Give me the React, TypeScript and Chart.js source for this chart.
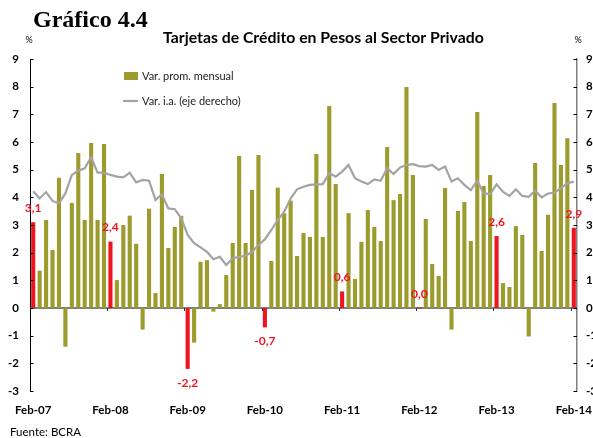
import React, { useEffect, useRef } from "react";
import { Chart, registerables } from "chart.js";

Chart.register(...registerables);

const MONTHS = ["Ene", "Feb", "Mar", "Abr", "May", "Jun", "Jul", "Ago", "Sep", "Oct", "Nov", "Dic"];

// Feb-07 .. Feb-14 (85 months)
const categories: string[] = Array.from({ length: 85 }, (_, k) => {
  const m = (1 + k) % 12;
  const y = 7 + Math.floor((1 + k) / 12);
  return `${MONTHS[m]}-${String(y).padStart(2, "0")}`;
});

// Var. prom. mensual (%), left axis
const monthlyVar: number[] = [
  3.1, 1.35, 3.18, 2.1, 4.71, -1.4, 3.8, 5.6, 3.18, 5.96, 3.18, 5.93,
  2.4, 1.01, 3.0, 3.34, 2.32, -0.78, 3.59, 0.54, 4.84, 2.17, 2.93, 3.33,
  -2.2, -1.25, 1.67, 1.73, -0.13, 0.14, 1.19, 2.35, 5.49, 2.35, 4.27, 5.53,
  -0.7, 1.7, 4.35, 3.42, 3.88, 1.88, 2.71, 2.57, 5.57, 2.57, 7.3, 4.48,
  0.6, 3.43, 1.05, 2.39, 3.54, 2.93, 2.42, 5.82, 3.9, 4.12, 7.99, 4.81,
  0.0, 3.22, 1.59, 1.16, 4.34, -0.78, 3.51, 3.83, 2.42, 7.08, 4.41, 4.81,
  2.6, 0.9, 0.76, 2.96, 2.64, -1.03, 5.24, 2.06, 3.37, 7.41, 5.17, 6.14,
  2.9,
];

// Var. i.a. (%), right axis
const yoyVar: number[] = [
  42.2, 39.6, 41.9, 38.7, 37.8, 41.4, 48.1, 49.6, 50.5, 54.5, 48.9, 48.9,
  48.1, 47.5, 47.2, 48.9, 45.4, 46.3, 46.0, 39.0, 41.1, 36.0, 35.7, 32.4,
  26.4, 23.4, 21.9, 20.3, 17.6, 18.5, 15.5, 18.0, 18.5, 18.9, 20.3, 22.8,
  24.8, 28.2, 31.8, 34.8, 39.6, 42.9, 43.8, 44.5, 44.7, 44.8, 48.7, 47.5,
  49.3, 51.7, 46.9, 45.7, 44.8, 46.5, 46.0, 50.5, 48.4, 50.8, 51.7, 52.0,
  51.3, 51.1, 51.7, 49.9, 51.1, 45.7, 46.9, 44.5, 42.6, 46.0, 41.4, 41.2,
  44.7, 42.0, 40.5, 42.9, 40.5, 40.2, 42.4, 40.0, 41.4, 41.7, 43.3, 45.1,
  45.7,
];

const leftTicks = [-3, -2, -1, 0, 1, 2, 3, 4, 5, 6, 7, 8, 9];
const rightTicks = [-30, -20, -10, 0, 10, 20, 30, 40, 50, 60, 70, 80, 90];

const OLIVE = "#9c9c2e";
const RED = "#ee1520";
const GREY = "#a3a3a3";
const FONT = "Lato";

const decor = {
  id: "decor",
  beforeDatasetsDraw(chart: any) {
    const { ctx, chartArea, scales } = chart;
    const y0 = scales.y.getPixelForValue(0);
    ctx.save();
    ctx.strokeStyle = "#555";
    ctx.lineWidth = 1.5;
    ctx.beginPath();
    ctx.moveTo(chartArea.left, y0);
    ctx.lineTo(chartArea.right, y0);
    ctx.stroke();
    ctx.restore();
  },
  afterDatasetsDraw(chart: any) {
    const { ctx, scales } = chart;
    ctx.save();
    ctx.fillStyle = RED;
    ctx.font = `bold 12px ${FONT}`;
    ctx.textAlign = "center";
    ctx.textBaseline = "middle";
    monthlyVar.forEach((v, i) => {
      if (i % 12 !== 0) return;
      const x = scales.x.getPixelForValue(i);
      const yp = scales.y.getPixelForValue(v);
      const y = v >= 0 ? yp - 14 : yp + 14;
      ctx.fillText(v.toFixed(1).replace(".", ","), x, y);
    });
    ctx.restore();
  },
  afterDraw(chart: any) {
    const { ctx, chartArea, scales } = chart;
    const { left, right } = chartArea;
    ctx.save();
    // inward tick marks
    ctx.strokeStyle = "#000";
    ctx.lineWidth = 1;
    leftTicks.forEach((v) => {
      const y = Math.round(scales.y.getPixelForValue(v)) + 0.5;
      ctx.beginPath();
      ctx.moveTo(left, y);
      ctx.lineTo(left + 3.5, y);
      ctx.stroke();
    });
    rightTicks.forEach((v) => {
      const y = Math.round(scales.y2.getPixelForValue(v)) + 0.5;
      ctx.beginPath();
      ctx.moveTo(right - 3.5, y);
      ctx.lineTo(right, y);
      ctx.stroke();
    });
    // x ticks at year boundaries on zero line
    const y0 = scales.y.getPixelForValue(0);
    const step = scales.x.getPixelForValue(1) - scales.x.getPixelForValue(0);
    ctx.strokeStyle = "#333";
    for (let i = 12; i < categories.length; i += 12) {
      const x = Math.round(scales.x.getPixelForValue(i) - step / 2) + 0.5;
      ctx.beginPath();
      ctx.moveTo(x, y0);
      ctx.lineTo(x, y0 + 3);
      ctx.stroke();
    }

    // titles
    ctx.fillStyle = "#000";
    ctx.textBaseline = "alphabetic";
    ctx.textAlign = "left";
    ctx.font = `bold 24px "Liberation Serif"`;
    ctx.fillText("Gráfico 4.4", 33, 27);

    ctx.textBaseline = "middle";
    ctx.font = `bold 15.8px ${FONT}`;
    ctx.fillText("Tarjetas de Crédito en Pesos al Sector Privado", 163, 38);

    ctx.font = `9px ${FONT}`;
    ctx.textAlign = "center";
    ctx.fillText("%", 29, 40);
    ctx.fillText("%", 578, 40);

    // legend
    ctx.textAlign = "left";
    ctx.fillStyle = OLIVE;
    ctx.fillRect(124, 72, 14, 8);
    ctx.strokeStyle = GREY;
    ctx.lineWidth = 2.2;
    ctx.beginPath();
    ctx.moveTo(123, 101);
    ctx.lineTo(138, 101);
    ctx.stroke();
    ctx.fillStyle = "#222";
    ctx.font = `11px ${FONT}`;
    ctx.fillText("Var. prom. mensual", 142, 76);
    ctx.fillText("Var. i.a. (eje derecho)", 142, 101);

    // source
    ctx.font = `11.5px ${FONT}`;
    ctx.fillStyle = "#000";
    ctx.fillText("Fuente: BCRA", 10, 432);
    ctx.restore();
  },
};

export default function App() {
  const ref = useRef<HTMLCanvasElement | null>(null);

  useEffect(() => {
    if (!ref.current) return;
    const tickFont = { family: FONT, weight: "bold" as const, size: 11.5 };
    const chart = new Chart(ref.current, {
      data: {
        labels: categories,
        datasets: [
          {
            type: "line",
            label: "Var. i.a. (eje derecho)",
            data: yoyVar,
            borderColor: GREY,
            borderWidth: 2.2,
            pointRadius: 0,
            tension: 0,
            yAxisID: "y2",
            order: 1,
          },
          {
            type: "bar",
            label: "Var. prom. mensual",
            data: monthlyVar,
            backgroundColor: monthlyVar.map((_, i) => (i % 12 === 0 ? RED : OLIVE)),
            barPercentage: 0.64,
            categoryPercentage: 1,
            minBarLength: 1,
            yAxisID: "y",
            order: 2,
          },
        ],
      } as any,
      options: {
        responsive: false,
        animation: false,
        layout: { padding: { top: 59, bottom: 0, left: 0, right: 0 } },
        plugins: {
          legend: { display: false },
          tooltip: { enabled: false },
        },
        scales: {
          x: {
            type: "category",
            offset: true,
            grid: { display: false, drawTicks: false },
            border: { display: false },
            ticks: {
              autoSkip: false,
              maxRotation: 0,
              minRotation: 0,
              padding: 12,
              color: "#000",
              font: tickFont,
              callback: (_v: any, i: number) => (i % 12 === 0 ? categories[i] : ""),
            },
            afterFit: (s: any) => {
              s.height = 47;
            },
          },
          y: {
            position: "left",
            min: -3,
            max: 9,
            ticks: { stepSize: 1, padding: 11, color: "#000", font: tickFont },
            grid: { display: false, drawTicks: false },
            border: { display: true, color: "#000", width: 1 },
            afterFit: (s: any) => {
              s.width = 30;
            },
          },
          y2: {
            position: "right",
            min: -30,
            max: 90,
            ticks: { stepSize: 10, padding: 9, color: "#000", font: tickFont },
            grid: { display: false, drawTicks: false },
            border: { display: true, color: "#7f7f7f", width: 1.5 },
            afterFit: (s: any) => {
              s.width = 43;
            },
          },
        },
      } as any,
      plugins: [decor],
    });
    return () => chart.destroy();
  }, []);

  return (
    <div
      style={{
        position: "fixed",
        left: 0,
        top: 0,
        width: 593,
        height: 438,
        overflow: "hidden",
        background: "#fff",
      }}
    >
      <canvas ref={ref} width={620} height={438} style={{ display: "block" }} />
    </div>
  );
}
